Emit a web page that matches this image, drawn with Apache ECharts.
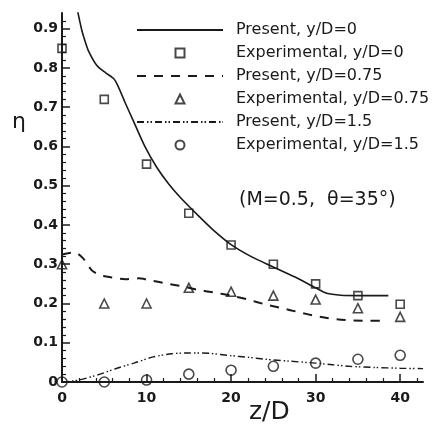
<!DOCTYPE html>
<html>
<head>
<meta charset="utf-8">
<script src="https://cdn.jsdelivr.net/npm/echarts@6/dist/echarts.min.js"></script>
<style>
html,body{margin:0;padding:0;background:#fff;}
#c{width:436px;height:430px;}
</style>
</head>
<body>
<div id="c"></div>
<script>
// ---- data ----
var xTicks = [0, 10, 20, 30, 40];
var yTicks = [0, 0.1, 0.2, 0.3, 0.4, 0.5, 0.6, 0.7, 0.8, 0.9];
var seriesNames = ['Present, y/D=0', 'Experimental, y/D=0', 'Present, y/D=0.75',
                   'Experimental, y/D=0.75', 'Present, y/D=1.5', 'Experimental, y/D=1.5'];
var presentY0 = [[1.6,0.97],[2.3,0.9],[2.7,0.87],[3.1,0.845],[4.1,0.807],[5.2,0.787],[6.1,0.773],[6.6,0.755],
                 [7.5,0.71],[8.4,0.667],[9.8,0.6],[11.2,0.547],[12.6,0.505],[14,0.47],[16.3,0.42],[18,0.385],
                 [20,0.35],[22.5,0.318],[24.8,0.295],[27.5,0.268],[30,0.24],[31.3,0.226],[33,0.221],[35,0.22],[38.6,0.22]];
var expZ = [0, 5, 10, 15, 20, 25, 30, 35, 40];
var expY0 = [0.85, 0.72, 0.555, 0.43, 0.349, 0.30, 0.25, 0.22, 0.198];
var presentY075 = [[0,0.325],[1.5,0.33],[2.5,0.315],[3.5,0.285],[4.5,0.272],[6,0.266],[7.5,0.262],[9,0.264],
                   [10.5,0.259],[12.5,0.25],[14.5,0.243],[16,0.235],[18,0.228],[20,0.22],[22,0.21],[24,0.198],
                   [26,0.188],[28,0.178],[30,0.168],[32,0.161],[34,0.157],[36,0.156],[38.2,0.156]];
var expY075 = [0.30, 0.20, 0.20, 0.24, 0.23, 0.22, 0.21, 0.188, 0.166];
var presentY15 = [[0,0],[2,0.005],[4.5,0.02],[6.5,0.035],[8.5,0.048],[10.8,0.064],[13,0.072],[15,0.074],
                  [17.5,0.073],[20,0.067],[22,0.063],[24,0.058],[27,0.053],[30,0.048],[32,0.044],[34,0.04],
                  [37,0.037],[40,0.035],[42.7,0.034]];
var expY15 = [0, 0, 0.005, 0.02, 0.03, 0.04, 0.048, 0.058, 0.068];

function pairs(xs, ys){ return xs.map(function(x,i){ return [x, ys[i]]; }); }

var ink = '#1a1a1a';
var chart = echarts.init(document.getElementById('c'));
var lineBase = {type:'line', symbol:'none', smooth:0.25, z:2};
var scBase = {type:'scatter', clip:false, z:3, symbolKeepAspect:true};
var lineLegend = seriesNames.filter(function(n, i){ return i % 2 === 0; })
  .map(function(n){ return {name:n, itemStyle:{opacity:0}}; });
var markLegend = seriesNames.filter(function(n, i){ return i % 2 === 1; });
var legText = {fontFamily:'DejaVu Sans', fontSize:16, color:ink, lineHeight:23};
chart.setOption({
  backgroundColor:'#fff',
  animation:false,
  grid:{left:62, right:13, top:13, bottom:48},
  legend:[{
    orient:'vertical', left:136, top:18.5, itemWidth:86, itemHeight:9, itemGap:23, padding:0,
    data:lineLegend,
    textStyle:Object.assign({padding:[0,0,0,8]}, legText)
  },{
    orient:'vertical', left:174.5, top:41.5, itemWidth:9, itemHeight:9, itemGap:23, padding:0,
    data:markLegend,
    textStyle:Object.assign({padding:[0,0,0,46.5]}, legText)
  }],
  xAxis:{
    type:'value', min:0, max:42.7, interval:10,
    axisLine:{show:true, lineStyle:{color:ink, width:2}},
    axisTick:{show:true, inside:true, length:8, customValues:xTicks, lineStyle:{color:ink, width:1.5}},
    minorTick:{show:true, splitNumber:5, length:4, lineStyle:{color:ink, width:1.2}},
    axisLabel:{customValues:xTicks, margin:9, fontFamily:'DejaVu Sans', fontWeight:'bold', fontSize:14, color:ink},
    splitLine:{show:false}
  },
  yAxis:{
    type:'value', min:0, max:0.94, interval:0.1,
    axisLine:{show:true, lineStyle:{color:ink, width:2}},
    axisTick:{show:true, inside:true, length:8, customValues:yTicks, lineStyle:{color:ink, width:1.5}},
    minorTick:{show:true, splitNumber:5, length:4, lineStyle:{color:ink, width:1.2}},
    axisLabel:{customValues:yTicks, margin:4, fontFamily:'DejaVu Sans', fontWeight:'bold', fontSize:14, color:ink},
    splitLine:{show:false}
  },
  graphic:[
    {type:'text', left:12, top:111, style:{text:'η', font:'22px "DejaVu Sans"', fill:ink}},
    {type:'text', left:249, top:400, style:{text:'z/D', font:'25px "DejaVu Sans"', fill:ink}},
    {type:'text', left:239, top:191, style:{text:'(M=0.5,  θ=35°)', font:'19px "DejaVu Sans"', fill:ink}}
  ],
  series:[
    Object.assign({}, lineBase, {name:seriesNames[0], data:presentY0, lineStyle:{color:ink, width:1.6, type:'solid'}, itemStyle:{color:ink}}),
    Object.assign({}, scBase, {name:seriesNames[1], data:pairs(expZ, expY0), symbol:'rect', symbolSize:8,
      itemStyle:{color:'rgba(255,255,255,0)', borderColor:ink, borderWidth:1.6}}),
    Object.assign({}, lineBase, {name:seriesNames[2], data:presentY075, lineStyle:{color:ink, width:2, type:[9,8]}, itemStyle:{color:ink}}),
    Object.assign({}, scBase, {name:seriesNames[3], data:pairs(expZ, expY075), symbol:'triangle', symbolSize:9,
      itemStyle:{color:'rgba(255,255,255,0)', borderColor:ink, borderWidth:1.6}}),
    Object.assign({}, lineBase, {name:seriesNames[4], data:presentY15, lineStyle:{color:ink, width:1.4, type:[7,3,1.5,2,1.5,3]}, itemStyle:{color:ink}}),
    Object.assign({}, scBase, {name:seriesNames[5], data:pairs(expZ, expY15), symbol:'circle', symbolSize:10,
      itemStyle:{color:'rgba(255,255,255,0)', borderColor:ink, borderWidth:1.6}})
  ]
});
</script>
</body>
</html>
